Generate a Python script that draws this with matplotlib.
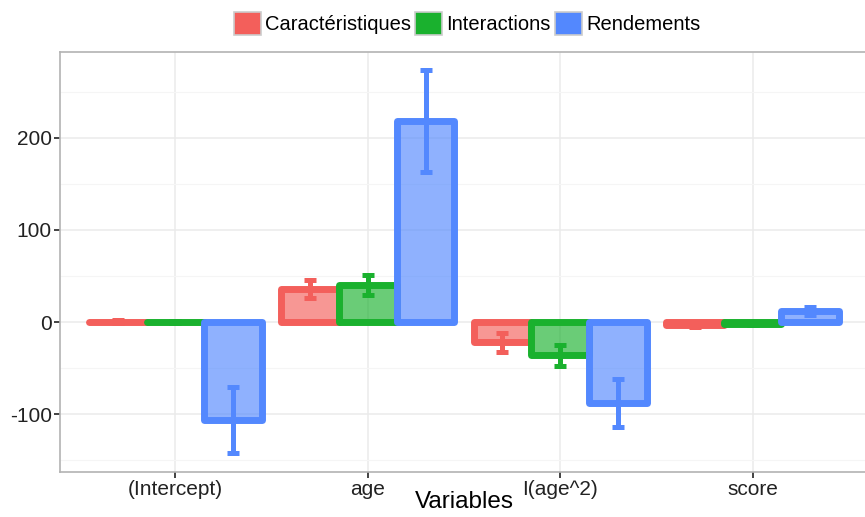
import matplotlib.pyplot as plt
import matplotlib.patches as mpatches
import numpy as np

plt.rcParams['font.family'] = ['Liberation Sans', 'DejaVu Sans']
plt.rcParams['axes.unicode_minus'] = False

# coefficients per variable and model, with standard errors
variables = ['(Intercept)', 'age', 'I(age^2)', 'score']
models = ['Caractéristiques', 'Interactions', 'Rendements']
estimates = {
    'Caractéristiques': [0.5, 36, -22, -3],
    'Interactions': [0.3, 40, -36, -2],
    'Rendements': [-106, 218, -88, 12],
}
std_err = {
    'Caractéristiques': [1.5, 10, 10, 2.5],
    'Interactions': [1.5, 11, 11.5, 1.5],
    'Rendements': [36, 55, 26, 4.5],
}
colours = {'Caractéristiques': '#F35F5B',
           'Interactions': '#1AB12E',
           'Rendements': '#5388FE'}

fig = plt.figure(figsize=(8.65, 5.17), dpi=100)
ax = fig.add_axes([60 / 865, 1 - 472 / 517, 808 / 865, 420 / 517])

x = np.arange(len(variables))
w = 0.3
for i, m in enumerate(models):
    pos = x + (i - 1) * w
    ax.bar(pos, estimates[m], width=w, color=colours[m], alpha=0.65,
           edgecolor='none', zorder=2)
    ax.bar(pos, estimates[m], width=w, facecolor='none',
           edgecolor=colours[m], linewidth=5, joinstyle='round',
           capstyle='round', zorder=3)
    ax.errorbar(pos, estimates[m], yerr=std_err[m], fmt='none',
                ecolor=colours[m], elinewidth=3.6, capsize=4.2,
                capthick=3.6, zorder=4)

ax.set_xlim(-0.6, 3.6)
ax.set_ylim(-162.5, 293)
ax.set_xticks(x)
ax.set_xticklabels(variables)
ax.set_yticks([-100, 0, 100, 200])
ax.set_yticks([-150, -50, 50, 150, 250], minor=True)
ax.tick_params(axis='both', which='major', labelsize=15, colors='#222222',
               length=4, width=1.2, pad=2)
ax.tick_params(axis='y', which='minor', length=0)
ax.grid(which='major', color='#EBEBEB', linewidth=1.1, zorder=0)
ax.grid(which='minor', axis='y', color='#F5F5F5', linewidth=0.8, zorder=0)
ax.set_axisbelow(True)
for s in ax.spines.values():
    s.set_color('#B3B3B3')
    s.set_linewidth(1.2)
ax.set_xlabel('Variables', fontsize=17.5, labelpad=-6)

handles = [mpatches.Patch(facecolor=colours[m], edgecolor='#CCCCCC',
                          linewidth=1.2, label=m) for m in models]
fig.legend(handles=handles, loc='upper center', bbox_to_anchor=(0.54, 1.0),
           ncol=3, frameon=False, fontsize=14.5, handlelength=1.35,
           handleheight=1.35, handletextpad=0.2, columnspacing=0.2,
           borderaxespad=0.2)

fig.savefig('out.png', dpi=100)
